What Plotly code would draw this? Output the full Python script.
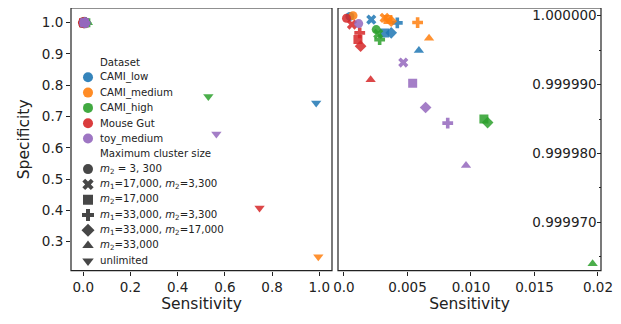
import plotly.graph_objects as go

# ---------------- data ----------------
datasets = ["CAMI_low", "CAMI_medium", "CAMI_high", "Mouse Gut", "toy_medium"]
colors = ["#1f77b4", "#ff7f0e", "#2ca02c", "#d62728", "#9467bd"]

size_labels = [
    "<i>m</i><sub>2</sub> = 3, 300",
    "<i>m</i><sub>1</sub>=17,000, <i>m</i><sub>2</sub>=3,300",
    "<i>m</i><sub>2</sub>=17,000",
    "<i>m</i><sub>1</sub>=33,000, <i>m</i><sub>2</sub>=3,300",
    "<i>m</i><sub>1</sub>=33,000, <i>m</i><sub>2</sub>=17,000",
    "<i>m</i><sub>2</sub>=33,000",
    "unlimited",
]
size_symbols = ["circle", "x", "square", "cross", "diamond", "triangle-up", "triangle-down"]

# sensitivity / specificity per dataset, in size_labels order
sens_cami_low = [0.00047, 0.00215, 0.0032, 0.0042, 0.00372, 0.0059, 0.987]
spec_cami_low = [0.99999988, 0.99999942, 0.99999749, 0.99999894, 0.9999975, 0.99999493, 0.743]

sens_cami_medium = [0.00071, 0.0032, 0.00346, 0.0058, 0.00372, 0.0067, 0.996]
spec_cami_medium = [0.99999999, 0.99999967, 0.99999942, 0.99999899, 0.99999919, 0.99999672, 0.252]

sens_cami_high = [0.00254, 0.0027, 0.01102, 0.00281, 0.01131, 0.01958, 0.530]
spec_cami_high = [0.99999797, 0.99999735, 0.9999850, 0.99999652, 0.99998449, 0.9999640, 0.764]

sens_mouse_gut = [0.0002, 0.00063, 0.0011, 0.00124, 0.00131, 0.0021, 0.747]
spec_mouse_gut = [0.99999962, 0.9999987, 0.99999652, 0.99999749, 0.99999557, 0.99999068, 0.408]

sens_toy_medium = [0.00116, 0.00467, 0.00541, 0.00817, 0.00643, 0.00961, 0.564]
spec_toy_medium = [0.99999884, 0.99999319, 0.9999902, 0.9999844, 0.99998667, 0.99997826, 0.644]

sens_all = [sens_cami_low, sens_cami_medium, sens_cami_high, sens_mouse_gut, sens_toy_medium]
spec_all = [spec_cami_low, spec_cami_medium, spec_cami_high, spec_mouse_gut, spec_toy_medium]

left_xticks = [0.0, 0.2, 0.4, 0.6, 0.8, 1.0]
left_xticktext = ["0.0", "0.2", "0.4", "0.6", "0.8", "1.0"]
left_yticks = [0.3, 0.4, 0.5, 0.6, 0.7, 0.8, 0.9, 1.0]
right_xticks = [0.0, 0.005, 0.010, 0.015, 0.020]
right_xticktext = ["0.0", "0.005", "0.010", "0.015", "0.02"]
right_yticks = [0.99997, 0.99998, 0.99999, 1.0]
right_yminor = [0.999965, 0.999975, 0.999985, 0.999995]

# ---------------- layout helpers ----------------
# the page body adds an 8px margin, so the figure is drawn 8px smaller and all
# pixel positions (measured in the 621x324 window) are shifted by that offset
OFF = 8
W, H = 621 - OFF, 324 - OFF
FONT = "DejaVu Sans"
INK = "#222222"
L_X = (71 - OFF, 332 - OFF)
R_X = (338 - OFF, 601 - OFF)
P_Y = (8 - OFF, 270.7 - OFF)
L_XRANGE = [-0.052, 1.054]
L_YRANGE = [0.2074, 1.047]
R_XRANGE = [-0.00047, 0.02024]
R_YRANGE = [0.9999630, 1.0000011]


def dom_x(a, b):
    return [a / W, b / W]


def dom_y(top, bottom):
    return [1 - bottom / H, 1 - top / H]


fig = go.Figure()

for xa, ya in (("x", "y"), ("x2", "y4")):
    for name, col, sx, sy in zip(datasets, colors, sens_all, spec_all):
        fig.add_trace(go.Scatter(
            x=sx, y=sy, mode="markers", xaxis=xa, yaxis=ya,
            marker=dict(symbol=size_symbols, size=9, color=col, opacity=0.85,
                        line=dict(width=0)),
            showlegend=False, name=name,
        ))

# ---------------- manual legend (overlay axes in pixel units) ----------------
row0, step = 62 - OFF, 15.3
mark_x, text_x = 88 - OFF, 98 - OFF
rows = []
rows.append(("Dataset", None, None))
for name, col in zip(datasets, colors):
    rows.append((name, "circle", col))
rows.append(("Maximum cluster size", None, None))
for lab, sym in zip(size_labels, size_symbols):
    rows.append((lab, sym, "#333333"))

lx, ly, lsym, lcol = [], [], [], []
annotations = []
for i, (txt, sym, col) in enumerate(rows):
    yy = row0 + i * step
    if sym is not None:
        lx.append(mark_x)
        ly.append(yy)
        lsym.append(sym)
        lcol.append(col)
    annotations.append(dict(
        x=text_x, y=yy, xref="x3", yref="y3", text=txt, showarrow=False,
        xanchor="left", yanchor="middle",
        font=dict(family=FONT, size=10.2, color=INK),
    ))

fig.add_trace(go.Scatter(
    x=lx, y=ly, mode="markers", xaxis="x3", yaxis="y3",
    marker=dict(symbol=lsym, size=10, color=lcol, opacity=0.9, line=dict(width=0)),
    showlegend=False, hoverinfo="skip",
))

# panel frames
shapes = []
for (x0, x1) in (L_X, R_X):
    shapes.append(dict(type="rect", xref="paper", yref="paper", layer="above",
                       x0=x0 / W, x1=x1 / W, y0=1 - P_Y[1] / H, y1=1 - P_Y[0] / H,
                       line=dict(color=INK, width=1.2), fillcolor="rgba(0,0,0,0)"))

axis_common = dict(
    showline=False, showgrid=False, zeroline=False, automargin=False,
    ticks="outside", ticklen=4, tickwidth=1.1, tickcolor=INK,
    tickfont=dict(family=FONT, size=13.5, color=INK),
)
title_font = dict(family=FONT, size=15.5, color=INK)

fig.update_layout(
    template="none",
    width=W, height=H,
    margin=dict(l=0, r=0, t=0, b=0),
    paper_bgcolor="white", plot_bgcolor="rgba(0,0,0,0)",
    showlegend=False,
    annotations=annotations,
    shapes=shapes,
    xaxis=dict(domain=dom_x(*L_X), anchor="y", range=L_XRANGE,
               tickmode="array", tickvals=left_xticks, ticktext=left_xticktext,
               title=dict(text="Sensitivity", font=title_font, standoff=4),
               **axis_common),
    yaxis=dict(domain=dom_y(*P_Y), anchor="x", range=L_YRANGE,
               tickmode="array", tickvals=left_yticks, tickformat=".1f",
               title=dict(text="Specificity", font=title_font, standoff=8),
               **axis_common),
    xaxis2=dict(domain=dom_x(*R_X), anchor="y2", range=R_XRANGE,
                tickmode="array", tickvals=right_xticks, ticktext=right_xticktext,
                title=dict(text="Sensitivity", font=title_font, standoff=4),
                **axis_common),
    yaxis2=dict(domain=dom_y(*P_Y), anchor="x2", range=R_YRANGE,
                side="right", tickmode="array", tickvals=right_yticks,
                showticklabels=False, **{**axis_common, "ticks": ""}),
    yaxis4=dict(overlaying="y2", anchor="free", position=R_X[1] / W,
                domain=dom_y(*P_Y), range=R_YRANGE,
                side="right", tickmode="array", tickvals=right_yticks,
                tickformat=".6f", ticklabelposition="inside", ticklabeloverflow="allow",
                showline=False, showgrid=False, zeroline=False, automargin=False,
                ticks="inside", ticklen=4, tickwidth=1.1, tickcolor=INK,
                minor=dict(tickvals=right_yminor, ticks="inside", ticklen=2.5,
                           tickcolor=INK, tickwidth=1),
                tickfont=dict(family=FONT, size=13.5, color=INK)),
    xaxis3=dict(overlaying="x", anchor="y3", range=list(L_X), visible=False,
                fixedrange=True, automargin=False),
    yaxis3=dict(overlaying="y", anchor="x3", range=[P_Y[1], P_Y[0]], visible=False,
                fixedrange=True, automargin=False),
)

fig.write_html("out.html")
